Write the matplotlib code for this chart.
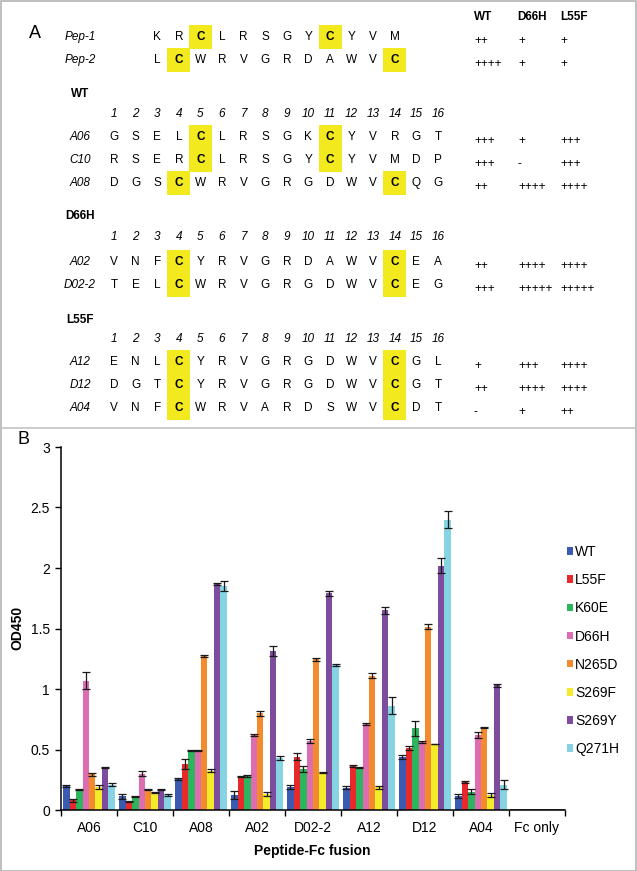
import matplotlib

matplotlib.use("Agg")

import matplotlib.pyplot as plt
from matplotlib.lines import Line2D
from matplotlib.patches import Rectangle

W, H = 637, 871
plt.rcParams["font.family"] = ["Liberation Sans", "DejaVu Sans"]

# ---- panel A data ----
pep_names = ["Pep-1", "Pep-2"]
pep_seqs = ["KRCLRSGYCYVM", "LCWRVGRDAWVC"]
pep_scores = [["++", "+", "+"], ["++++", "+", "+"]]

score_headers = ["WT", "D66H", "L55F"]

groups = ["WT", "D66H", "L55F"]
group_names = [["A06", "C10", "A08"], ["A02", "D02-2"], ["A12", "D12", "A04"]]
group_seqs = [
    ["GSELCLRSGKCYVRGT", "RSERCLRSGYCYVMDP", "DGSCWRVGRGDWVCQG"],
    ["VNFCYRVGRDAWVCEA", "TELCWRVGRGDWVCEG"],
    ["ENLCYRVGRGDWVCGL", "DGTCYRVGRGDWVCGT", "VNFCWRVARDSWVCDT"],
]
group_scores = [
    [["+++", "+", "+++"], ["+++", "-", "+++"], ["++", "++++", "++++"]],
    [["++", "++++", "++++"], ["+++", "+++++", "+++++"]],
    [["+", "+++", "++++"], ["++", "++++", "++++"], ["-", "+", "++"]],
]

# ---- panel B data ----
peptides = ["A06", "C10", "A08", "A02", "D02-2", "A12", "D12", "A04", "Fc only"]
mutants = ["WT", "L55F", "K60E", "D66H", "N265D", "S269F", "S269Y", "Q271H"]
colors = ["#3b5bb1", "#e8292b", "#2db55d", "#dd6cb1", "#f38b2c", "#f2ec2a", "#7d4c9e", "#86d3e2"]

wt = [0.20, 0.115, 0.255, 0.125, 0.19, 0.185, 0.44, 0.115]
l55f = [0.08, 0.07, 0.38, 0.275, 0.44, 0.365, 0.515, 0.23]
k60e = [0.17, 0.11, 0.49, 0.28, 0.34, 0.35, 0.675, 0.15]
d66h = [1.07, 0.30, 0.495, 0.62, 0.57, 0.71, 0.56, 0.62]
n265d = [0.295, 0.17, 1.275, 0.80, 1.245, 1.11, 1.515, 0.68]
s269f = [0.19, 0.145, 0.325, 0.13, 0.31, 0.187, 0.545, 0.125]
s269y = [0.35, 0.17, 1.87, 1.315, 1.79, 1.65, 2.02, 1.03]
q271h = [0.21, 0.125, 1.85, 0.43, 1.20, 0.86, 2.40, 0.21]

wt_err = [0.01, 0.02, 0.01, 0.03, 0.015, 0.015, 0.015, 0.015]
l55f_err = [0.015, 0.005, 0.045, 0.005, 0.03, 0.01, 0.015, 0.01]
k60e_err = [0.003, 0.005, 0.003, 0.01, 0.025, 0.005, 0.06, 0.02]
d66h_err = [0.07, 0.02, 0.005, 0.01, 0.02, 0.01, 0.01, 0.025]
n265d_err = [0.01, 0.005, 0.01, 0.02, 0.01, 0.02, 0.02, 0.005]
s269f_err = [0.02, 0.005, 0.01, 0.015, 0.003, 0.01, 0.003, 0.015]
s269y_err = [0.003, 0.005, 0.01, 0.04, 0.02, 0.03, 0.06, 0.01]
q271h_err = [0.01, 0.01, 0.04, 0.015, 0.01, 0.07, 0.07, 0.04]

fc_only = 0.012

series = [wt, l55f, k60e, d66h, n265d, s269f, s269y, q271h]
errors = [wt_err, l55f_err, k60e_err, d66h_err, n265d_err, s269f_err, s269y_err, q271h_err]


def fx(x):
    return x / W


def fy(y):
    return 1 - y / H


fig = plt.figure(figsize=(W / 100, H / 100), dpi=100)

# frame and divider
fig.add_artist(Rectangle((fx(0.5), fy(870.5)), fx(636) - fx(0.5), fy(0.5) - fy(870.5),
                         transform=fig.transFigure, fill=False, edgecolor="#b4b4b4", linewidth=1.2))
fig.add_artist(Line2D([0, 1], [fy(428), fy(428)], transform=fig.transFigure, color="#c4c4c4", linewidth=1.2))

fig.text(fx(35), fy(33), "A", fontsize=13, ha="center", va="center")
fig.text(fx(24), fy(440), "B", fontsize=13, ha="center", va="center")

COL0, DCOL = 114, 21.6
LABEL_X = 80
SCORE_X = [474, 518, 560]
HEAD_X = [483, 532, 574]
FS = 8.5


def draw_seq_row(y, name, seq, start_col, scores):
    fig.text(fx(LABEL_X), fy(y), name, fontsize=FS, style="italic", ha="center", va="center")
    for k, ch in enumerate(seq):
        cx = COL0 + DCOL * (start_col + k - 1)
        if ch == "C":
            fig.add_artist(Rectangle((fx(cx - 11.5), fy(y + 12)), 23 / W, 24 / H,
                                     transform=fig.transFigure, facecolor="#f2ea1e", edgecolor="none"))
            fig.text(fx(cx), fy(y), ch, fontsize=FS, weight="bold", ha="center", va="center")
        else:
            fig.text(fx(cx), fy(y), ch, fontsize=FS, ha="center", va="center")
    for sx, s in zip(SCORE_X, scores):
        fig.text(fx(sx), fy(y + 4), s, fontsize=FS, ha="left", va="center")


for hx, h in zip(HEAD_X, score_headers):
    fig.text(fx(hx), fy(17), h, fontsize=FS, weight="bold", ha="center", va="center")

for y, name, seq, sc in zip([37, 60], pep_names, pep_seqs, pep_scores):
    draw_seq_row(y, name, seq, 3, sc)

label_ys = [94, 216, 320]
number_ys = [114, 237, 339]
row_ys = [[137, 160, 183], [262, 285], [362, 385, 408]]
for g, label in enumerate(groups):
    fig.text(fx(LABEL_X), fy(label_ys[g]), label, fontsize=FS, weight="bold", ha="center", va="center")
    for i in range(16):
        fig.text(fx(COL0 + DCOL * i), fy(number_ys[g]), str(i + 1), fontsize=FS, style="italic",
                 ha="center", va="center")
    for y, name, seq, sc in zip(row_ys[g], group_names[g], group_seqs[g], group_scores[g]):
        draw_seq_row(y, name, seq, 1, sc)

# ---- panel B ----
ax = fig.add_axes([fx(61), fy(810), 504 / W, 363 / H])
bw = 0.115
for j, (vals, errs, col, name) in enumerate(zip(series, errors, colors, mutants)):
    xs = [i + 0.5 + (j - 3.5) * bw for i in range(len(vals))]
    ax.bar(xs, vals, width=bw, color=col, label=name, zorder=2)
    ax.errorbar(xs, vals, yerr=errs, fmt="none", ecolor="#1a1a1a", elinewidth=0.9,
                capsize=3.2, capthick=0.9, zorder=3)
ax.bar([8.5], [fc_only], width=8 * bw + 0.06, color="#8c8c8c", edgecolor="#555555", linewidth=0.6, zorder=2)

ax.set_xlim(0, 9)
ax.set_ylim(0, 3)
ax.set_yticks([0, 0.5, 1, 1.5, 2, 2.5, 3])
ax.set_yticklabels(["0", "0.5", "1", "1.5", "2", "2.5", "3"])
ax.set_xticks(range(10))
ax.set_xticklabels([])
ax.set_xticks([i + 0.5 for i in range(9)], minor=True)
ax.set_xticklabels(peptides, minor=True)
ax.tick_params(axis="x", which="major", length=4, width=1, direction="out")
ax.tick_params(axis="x", which="minor", length=0, pad=8, labelsize=10)
ax.tick_params(axis="y", length=4, width=1, direction="out", pad=4, labelsize=10)
for side in ["top", "right"]:
    ax.spines[side].set_visible(False)
for side in ["left", "bottom"]:
    ax.spines[side].set_linewidth(1.1)

fig.text(fx(17), fy(628), "OD450", fontsize=10, weight="bold", rotation=90, ha="center", va="center")
fig.text(fx(312), fy(851), "Peptide-Fc fusion", fontsize=10, weight="bold", ha="center", va="center")

ax.legend(loc="upper left", bbox_to_anchor=(fx(567), fy(545)), bbox_transform=fig.transFigure,
          frameon=False, fontsize=10, handlelength=0.45, handleheight=0.45, handletextpad=0.15,
          labelspacing=1.02, borderpad=0, borderaxespad=0)

fig.savefig("out.png", dpi=100)
